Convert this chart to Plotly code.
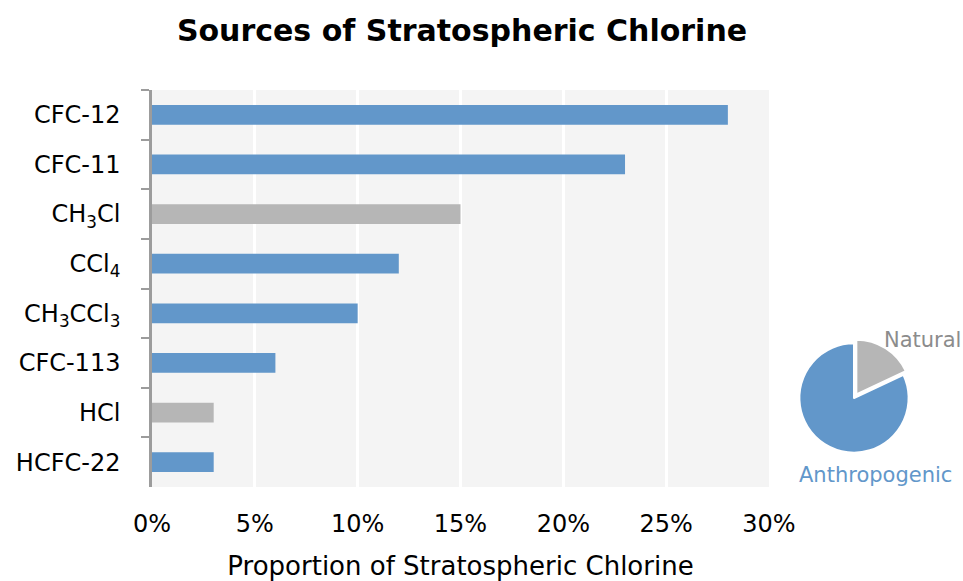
import plotly.graph_objects as go

# Contributions of each source gas to stratospheric chlorine (%)
sources = ["CFC-12", "CFC-11", "CH<sub>3</sub>Cl", "CCl<sub>4</sub>",
           "CH<sub>3</sub>CCl<sub>3</sub>", "CFC-113", "HCl", "HCFC-22"]
shares = [28, 23, 15, 12, 10, 6, 3, 3]
origin = ["Anthropogenic", "Anthropogenic", "Natural", "Anthropogenic",
          "Anthropogenic", "Anthropogenic", "Natural", "Anthropogenic"]

x_ticks = [0, 5, 10, 15, 20, 25, 30]
x_tick_labels = ["0%", "5%", "10%", "15%", "20%", "25%", "30%"]

pie_labels = ["Natural", "Anthropogenic"]

BLUE = "#6297ca"
GREY = "#b6b6b6"
colour_of = {"Natural": GREY, "Anthropogenic": BLUE}

# Natural vs anthropogenic totals for the inset pie
pie_values = [sum(s for s, o in zip(shares, origin) if o == lab) for lab in pie_labels]

FONT = "DejaVu Sans"

# Layout geometry (pixels)
W, H = 963, 581
ML, MR, MT, MB = 152, 10, 90, 94
PW, PH = W - ML - MR, H - MT - MB
AXIS_RIGHT = 769


def px_x(x):
    return (x - ML) / PW


def px_y(y):
    return (H - MB - y) / PH


pie_cx, pie_cy, pie_r = 854, 398, 59

fig = go.Figure()

fig.add_trace(go.Bar(
    y=sources,
    x=shares,
    orientation="h",
    marker=dict(color=[colour_of[o] for o in origin], line=dict(width=0)),
    width=0.4,
    hoverinfo="x+y",
    showlegend=False,
))

fig.add_trace(go.Pie(
    labels=pie_labels,
    values=pie_values,
    marker=dict(colors=[colour_of[l] for l in pie_labels], line=dict(color="white", width=2)),
    pull=[0.08, 0],
    sort=False,
    direction="clockwise",
    rotation=0,
    textinfo="none",
    showlegend=False,
    domain=dict(x=[px_x(pie_cx - pie_r), px_x(pie_cx + pie_r)],
                y=[px_y(pie_cy + pie_r), px_y(pie_cy - pie_r)]),
))

# Pie slice captions, coloured like their slices
fig.add_annotation(text=pie_labels[0], x=px_x(922), y=px_y(340), xref="paper", yref="paper",
                   showarrow=False, xanchor="center", yanchor="middle",
                   font=dict(family=FONT, size=21, color="#8c8c8c"))
fig.add_annotation(text=pie_labels[1], x=px_x(875), y=px_y(475), xref="paper", yref="paper",
                   showarrow=False, xanchor="center", yanchor="middle",
                   font=dict(family=FONT, size=21, color=BLUE))

fig.update_layout(
    width=W, height=H,
    margin=dict(l=ML, r=MR, t=MT, b=MB),
    paper_bgcolor="white",
    plot_bgcolor="#f4f4f4",
    title=dict(text="<b>Sources of Stratospheric Chlorine</b>", x=462 / W, xanchor="center",
               y=1 - 30 / H, yanchor="middle",
               font=dict(family=FONT, size=30, color="black")),
    font=dict(family=FONT, color="black"),
    xaxis=dict(
        domain=[0, (AXIS_RIGHT - ML) / PW],
        range=[0, 30],
        tickvals=x_ticks,
        ticktext=x_tick_labels,
        showgrid=True, gridcolor="white", gridwidth=3,
        zeroline=False, showline=False, ticks="",
        tickfont=dict(size=24, color="black"),
        ticklabelstandoff=20,
        title=dict(text="Proportion of Stratospheric Chlorine",
                   font=dict(size=26, color="black"), standoff=22),
        automargin=False,
        fixedrange=True,
    ),
    yaxis=dict(
        autorange="reversed",
        tickson="boundaries",
        ticks="outside", ticklen=8, tickcolor="#9c9c9c", tickwidth=2,
        showline=True, linecolor="#9c9c9c", linewidth=2.5,
        showgrid=False,
        tickfont=dict(size=24, color="black"),
        ticklabelstandoff=24,
        automargin=False,
        fixedrange=True,
    ),
)

fig.write_html("out.html")
